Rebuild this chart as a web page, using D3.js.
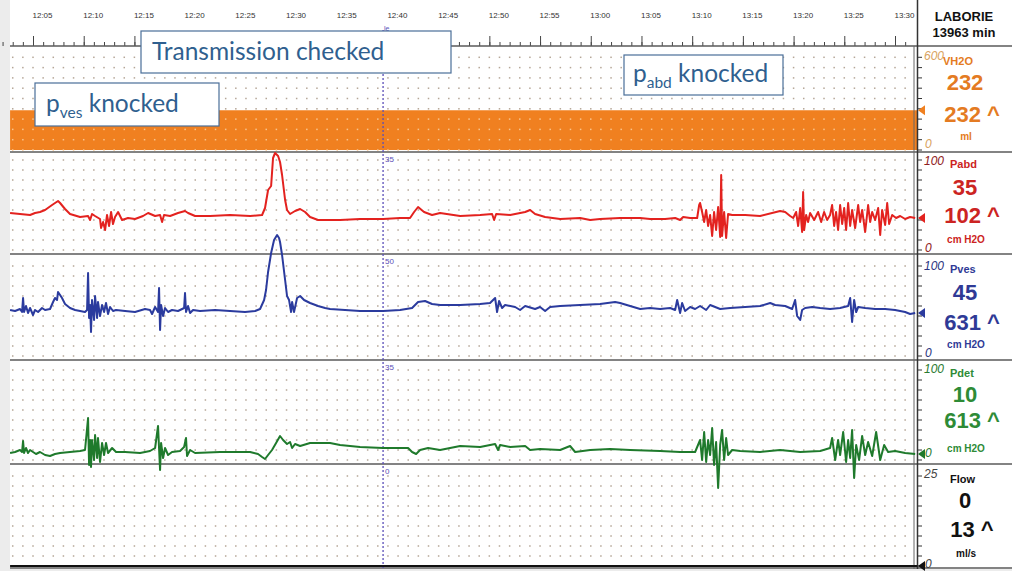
<!DOCTYPE html>
<html lang="en">
<head>
    <meta charset="UTF-8">
    <title>Urodynamics trace</title>
    <style>
        body { margin: 0; background: #ececec; }
        svg { display: block; }
    </style>
</head>
<body>
<script src="https://d3js.org/d3.v7.min.js"></script>
<script>
    // time in minutes after 12:00
    var tickMinutes = [5, 10, 15, 20, 25, 30, 35, 40, 45, 50, 55, 60, 65, 70, 75, 80, 85, 90];
    var tickLabels = ["12:05", "12:10", "12:15", "12:20", "12:25", "12:30", "12:35", "12:40", "12:45",
        "12:50", "12:55", "13:00", "13:05", "13:10", "13:15", "13:20", "13:25", "13:30"];

    var vh2o = [[2.74, 232], [92.2, 232]];
    var flow = [[2.74, 0], [92.2, 0]];

    var pabd = [[2.74,37],[3.72,36],[4.71,35],[5.20,37],[5.69,38],[6.19,40],[6.88,45],[7.47,49],[7.67,47],[8.16,41],
        [8.65,36],[9.64,33],[10.43,34],[10.63,30],[10.82,36],[11.12,34],[11.61,31],[11.71,22],[11.91,28],[12.11,20],
        [12.30,35],[12.50,24],[12.70,38],[12.89,26],[13.09,33],[13.39,38],[13.78,30],[14.37,32],[15.06,31],[15.85,34],
        [16.35,37],[17.04,34],[17.53,35],[17.73,28],[17.92,35],[18.52,34],[19.30,37],[19.99,39],[20.29,37],[20.98,34],
        [22.46,34],[24.43,35],[26.41,34],[27.59,35],[27.88,42],[28.18,60],[28.48,64],[28.67,92],[28.87,97],[29.17,94],
        [29.36,88],[29.56,75],[29.86,50],[30.05,40],[30.35,36],[30.84,39],[31.34,41],[31.83,38],[32.32,33],[33.11,30],
        [35.28,30],[37.25,31],[39.52,31],[41.20,32],[42.18,32],[42.58,38],[42.97,43],[43.56,38],[44.35,35],[45.14,37],
        [47.12,34],[49.09,35],[50.27,36],[50.47,30],[50.67,36],[52.05,35],[53.53,38],[54.02,40],[54.51,36],[55.50,33],
        [56.98,31],[58.95,32],[59.94,30],[60.92,31],[62.89,32],[64.87,32],[65.85,31],[67.33,31],[68.32,32],[68.81,30],
        [69.11,33],[69.80,32],[70.49,32],[70.69,45],[70.78,47],[70.98,38],[71.18,28],[71.38,40],[71.57,24],[71.77,35],
        [71.97,14],[72.16,38],[72.36,20],[72.56,43],[72.76,13],[72.86,75],[72.95,14],[73.15,38],[73.35,12],[73.54,36],
        [73.94,35],[75.22,35],[76.70,34],[78.67,39],[79.17,38],[79.66,34],[79.96,32],[80.25,38],[80.45,24],[80.65,42],
        [80.84,18],[80.94,58],[81.04,20],[81.24,35],[81.43,28],[81.63,37],[82.03,30],[82.42,38],[82.72,28],[83.01,38],
        [83.31,30],[83.60,35],[83.80,45],[84.00,24],[84.19,38],[84.39,20],[84.59,45],[84.79,26],[84.99,42],[85.18,20],
        [85.38,47],[85.58,24],[85.77,40],[86.07,22],[86.37,45],[86.56,28],[86.76,40],[87.06,18],[87.35,45],[87.55,28],
        [87.75,38],[88.04,30],[88.34,42],[88.54,15],[88.73,40],[89.03,25],[89.23,47],[89.42,26],[89.72,35],[90.11,32],
        [90.51,34],[91.00,31],[91.49,33],[91.99,32]];

    var pves = [[2.74,46],[3.23,45],[3.72,47],[3.92,44],[4.02,58],[4.12,44],[4.31,50],[4.51,43],[4.71,48],[5.00,41],
        [5.20,46],[5.50,44],[5.89,48],[6.19,46],[6.68,47],[6.98,54],[7.17,58],[7.37,56],[7.47,64],[7.67,61],
        [7.86,58],[8.16,52],[8.65,48],[9.15,46],[9.64,45],[10.13,44],[10.33,46],[10.43,83],[10.53,38],[10.63,51],
        [10.72,24],[10.82,56],[11.02,36],[11.12,60],[11.32,38],[11.41,54],[11.61,40],[11.81,51],[12.01,44],[12.20,53],
        [12.40,42],[12.60,49],[12.89,45],[13.19,46],[14.08,45],[15.06,44],[16.05,47],[16.54,46],[16.74,42],[17.04,49],
        [17.33,44],[17.43,68],[17.53,26],[17.63,51],[17.83,40],[18.02,48],[18.32,44],[18.71,46],[19.30,45],[19.70,47],
        [19.90,48],[19.99,63],[20.09,44],[20.29,50],[20.49,43],[20.78,46],[21.47,45],[22.95,46],[24.43,45],[25.91,44],
        [26.90,45],[27.39,47],[27.79,56],[27.98,66],[28.18,84],[28.48,103],[28.77,116],[29.07,121],[29.26,118],[29.36,114],
        [29.56,101],[29.86,76],[30.05,60],[30.25,56],[30.45,44],[30.55,54],[30.74,44],[31.04,58],[31.34,60],[31.73,56],
        [32.32,53],[33.11,50],[33.80,48],[34.29,47],[35.77,46],[37.25,45],[39.52,45],[41.20,46],[42.38,48],[42.97,54],
        [43.66,55],[44.35,52],[45.14,51],[47.12,51],[49.09,52],[50.07,53],[50.57,58],[50.76,44],[50.96,55],[51.26,48],
        [51.55,51],[52.54,49],[53.03,46],[53.53,50],[54.51,47],[55.00,49],[55.50,45],[55.99,49],[56.98,50],[58.95,51],
        [60.92,52],[62.40,54],[62.89,53],[63.88,50],[64.87,47],[65.85,48],[66.84,47],[67.83,48],[68.32,46],[68.52,56],
        [68.81,43],[69.01,53],[69.30,45],[69.80,49],[70.29,47],[70.78,50],[71.38,46],[71.77,51],[72.76,47],[73.74,48],
        [75.22,49],[76.70,50],[77.69,53],[78.18,51],[79.17,50],[79.86,47],[80.15,56],[80.35,40],[80.65,36],[80.84,46],
        [81.14,48],[81.83,49],[82.62,48],[83.60,47],[84.59,48],[85.38,50],[85.58,58],[85.77,34],[85.97,56],[86.17,44],
        [86.37,49],[87.06,48],[88.04,47],[89.03,47],[90.01,46],[91.00,44],[91.49,42],[91.99,43]];

    var pdet = [[2.74,7],[3.23,8],[3.72,10],[3.92,8],[4.02,19],[4.12,7],[4.31,12],[4.51,7],[4.71,10],[5.00,8],
        [5.30,6],[5.69,8],[6.19,5],[6.68,4],[7.17,6],[7.67,7],[8.65,8],[9.64,9],[10.13,10],[10.43,42],
        [10.53,-5],[10.63,20],[10.72,-7],[10.82,20],[11.02,0],[11.12,25],[11.32,2],[11.41,22],[11.61,-2],[11.81,17],
        [12.01,5],[12.20,17],[12.40,7],[12.80,12],[13.19,8],[14.08,8],[15.56,7],[16.54,9],[17.04,12],[17.33,34],
        [17.53,-10],[17.63,17],[17.83,2],[18.02,12],[18.32,5],[18.71,8],[19.50,9],[19.90,13],[20.09,22],[20.19,4],
        [20.49,10],[20.98,7],[23.45,8],[26.41,8],[27.19,6],[27.59,3],[27.88,1],[28.18,5],[28.57,10],[28.97,17],
        [29.36,24],[29.66,20],[30.05,16],[30.35,18],[30.55,12],[30.84,16],[31.34,14],[32.32,17],[34.29,17],[35.28,15],
        [37.25,13],[39.52,12],[41.99,12],[42.38,8],[42.78,6],[43.17,10],[43.96,12],[45.14,10],[46.13,12],[47.12,14],
        [49.09,13],[50.57,16],[50.86,10],[51.06,15],[52.05,13],[53.53,14],[54.02,10],[55.00,11],[56.98,10],[57.96,14],
        [58.46,8],[59.94,10],[61.91,11],[63.88,10],[66.84,9],[68.81,8],[70.29,8],[70.78,20],[70.98,0],[71.18,28],
        [71.38,-2],[71.57,20],[71.77,5],[71.97,32],[72.16,-5],[72.36,18],[72.56,-28],[72.76,15],[72.95,30],[73.15,0],
        [73.35,22],[73.54,5],[73.94,10],[74.73,9],[76.70,8],[78.67,10],[80.65,8],[82.62,9],[83.60,12],[83.80,22],
        [84.10,0],[84.39,20],[84.59,5],[84.89,28],[85.18,-2],[85.38,20],[85.58,2],[85.77,30],[85.97,-18],[86.17,15],
        [86.46,0],[86.76,24],[87.06,5],[87.35,18],[87.75,4],[88.14,28],[88.54,0],[88.93,15],[89.32,8],[90.01,9],
        [91.00,7],[91.99,6]];

    var channelNames = ["VH2O", "Pabd", "Pves", "Pdet", "Flow"];
    var channelMax = [600, 100, 100, 100, 25];
    var currentValues = [232, 35, 45, 10, 0];
    var markedValues = [232, 102, 631, 613, 13];
    var channelUnits = ["ml", "cm H2O", "cm H2O", "cm H2O", "ml/s"];
    var cursorMinute = 39.52;
    var cursorReadouts = ["35", "50", "35", "0"];

    var width = 1012, height = 571;
    var plotLeft = 10;

    // panel layout: top / bottom of each strip, and where 0..max sits
    var panels = [
        {top: 46, bottom: 152, y0: 150, y1: 47, line: "#F08020", text: "#E47B22", soft: "#D9A35E"},
        {top: 152, bottom: 254, y0: 250, y1: 150, line: "#E3221F", text: "#CC2422", soft: "#8E2020"},
        {top: 254, bottom: 360, y0: 356, y1: 256, line: "#2B3B9E", text: "#2F3A96", soft: "#2A3580"},
        {top: 360, bottom: 464, y0: 460, y1: 360, line: "#1F7A2C", text: "#2E8B36", soft: "#2A7A30"},
        {top: 464, bottom: 568, y0: 566, y1: 466, line: "#111111", text: "#111111", soft: "#444444"}
    ];

    var x = d3.scaleLinear().domain([5, 90]).range([33, 895]);

    var yScales = panels.map(function (p, i) {
        return d3.scaleLinear().domain([0, channelMax[i]]).range([p.y0, p.y1]);
    });

    var svg = d3.select("body")
        .append("svg")
        .attr("width", width)
        .attr("height", height);

    svg.append("rect")
        .attr("x", plotLeft).attr("y", 0)
        .attr("width", width - plotLeft).attr("height", 569)
        .attr("fill", "#ffffff");

    // volume fill
    var area = d3.area()
        .x(function (d) { return x(d[0]); })
        .y0(yScales[0](0))
        .y1(function (d) { return yScales[0](d[1]); });

    svg.append("path")
        .datum(vh2o)
        .attr("d", area)
        .attr("fill", panels[0].line);

    // dotted grid
    var minutes = d3.range(3, 92);
    panels.forEach(function (p, i) {
        var rows = d3.range(0, 11).map(function (k) { return yScales[i](channelMax[i] * k / 10); })
            .filter(function (yy) { return yy > p.top + 2 && yy < p.bottom - 1; });
        var g = svg.append("g");
        rows.forEach(function (yy) {
            g.selectAll(null)
                .data(minutes)
                .enter()
                .append("rect")
                .attr("x", function (m) { return x(m) - 0.75; })
                .attr("y", yy - 0.75)
                .attr("width", 1.5)
                .attr("height", 1.5)
                .attr("fill", i === 0 && yy > yScales[0](232) ? "#f7c48e" : "#b5a697");
        });
        // small ticks on the right edge
        svg.append("g").selectAll("line")
            .data(rows)
            .enter()
            .append("line")
            .attr("x1", 917).attr("x2", 922)
            .attr("y1", function (d) { return d; })
            .attr("y2", function (d) { return d; })
            .attr("stroke", "#333")
            .attr("stroke-width", 1);
    });

    // time axis
    var axisY = 46;
    var minor = svg.append("g")
        .attr("transform", "translate(0," + axisY + ")")
        .call(d3.axisTop(x).tickValues(d3.range(2, 92)).tickSize(4).tickFormat(""));
    var major = svg.append("g")
        .attr("transform", "translate(0," + axisY + ")")
        .call(d3.axisTop(x).tickValues(tickMinutes).tickSize(10)
            .tickFormat(function (d, i) { return tickLabels[i]; }).tickPadding(18));
    [minor, major].forEach(function (g) {
        g.select(".domain").remove();
        g.selectAll("line").attr("stroke", "#444");
    });
    major.selectAll("text")
        .attr("dx", 9)
        .attr("font-family", "Liberation Sans, Arial, sans-serif")
        .attr("font-size", "8px")
        .attr("fill", "#333");

    // horizontal separators
    var sepY = [axisY, 152, 254, 360, 464, 568];
    svg.selectAll(".sep")
        .data(sepY)
        .enter()
        .append("line")
        .attr("x1", plotLeft).attr("x2", width)
        .attr("y1", function (d) { return d; })
        .attr("y2", function (d) { return d; })
        .attr("stroke", "#5a5a5a")
        .attr("stroke-width", 1.5);

    // vertical border of the readout column
    svg.append("line").attr("x1", 914).attr("x2", 914).attr("y1", 46).attr("y2", 569)
        .attr("stroke", "#666").attr("stroke-width", 1);
    svg.append("line").attr("x1", 917.5).attr("x2", 917.5).attr("y1", 0).attr("y2", 569)
        .attr("stroke", "#333").attr("stroke-width", 1.5);

    // cursor
    svg.append("line")
        .attr("x1", x(cursorMinute)).attr("x2", x(cursorMinute))
        .attr("y1", 30).attr("y2", 568)
        .attr("stroke", "#5B4FB8")
        .attr("stroke-width", 1.3)
        .attr("stroke-dasharray", "2,2");
    svg.append("text")
        .attr("x", x(cursorMinute) + 1).attr("y", 31)
        .attr("font-family", "Liberation Sans, Arial, sans-serif")
        .attr("font-size", "7px").attr("fill", "#5B4FB8")
        .text("le");
    svg.selectAll(".readout")
        .data(cursorReadouts)
        .enter()
        .append("text")
        .attr("x", x(cursorMinute) + 2)
        .attr("y", function (d, i) { return panels[i + 1].top + 10; })
        .attr("font-family", "Liberation Sans, Arial, sans-serif")
        .attr("font-size", "8px")
        .attr("fill", "#5B4FB8")
        .text(function (d) { return d; });

    // pressure traces
    var series = [null, pabd, pves, pdet, flow];
    series.forEach(function (s, i) {
        if (!s) return;
        var line = d3.line()
            .x(function (d) { return x(d[0]); })
            .y(function (d) { return yScales[i](d[1]); });
        svg.append("path")
            .datum(s)
            .attr("d", line)
            .attr("fill", "none")
            .attr("stroke", panels[i].line)
            .attr("stroke-width", 2)
            .attr("stroke-linejoin", "round");
    });

    // readout column
    var allSeries = [vh2o, pabd, pves, pdet, flow];
    var font = "Liberation Sans, Arial, sans-serif";
    var offsets = [
        {max: 14, name: 19, cur: 44, mark: 76, unit: 94, zero: 102},
        {max: 13, name: 16, cur: 43, mark: 71, unit: 91, zero: 100},
        {max: 16, name: 19, cur: 46, mark: 76, unit: 94, zero: 103},
        {max: 13, name: 17, cur: 42, mark: 68, unit: 92, zero: 97},
        {max: 14, name: 19, cur: 44, mark: 73, unit: 93, zero: 104}
    ];

    panels.forEach(function (p, i) {
        var o = offsets[i];
        var g = svg.append("g").attr("font-family", font);
        g.append("text").attr("x", 924).attr("y", p.top + o.max)
            .attr("font-style", "italic").attr("font-size", "12px").attr("fill", p.soft)
            .text(channelMax[i]);
        g.append("text").attr("x", i === 0 ? 943 : 950).attr("y", p.top + o.name)
            .attr("font-weight", "bold").attr("font-size", "11px").attr("fill", p.text)
            .text(channelNames[i]);
        g.append("text").attr("x", 965).attr("y", p.top + o.cur)
            .attr("text-anchor", "middle")
            .attr("font-weight", "bold").attr("font-size", "22px").attr("fill", p.text)
            .text(currentValues[i]);
        g.append("text").attr("x", 972).attr("y", p.top + o.mark)
            .attr("text-anchor", "middle")
            .attr("font-weight", "bold").attr("font-size", "22px").attr("fill", p.text)
            .text(markedValues[i] + " ^");
        g.append("text").attr("x", 966).attr("y", p.top + o.unit)
            .attr("text-anchor", "middle")
            .attr("font-weight", "bold").attr("font-size", "10px").attr("fill", p.text)
            .text(channelUnits[i]);
        g.append("text").attr("x", 925).attr("y", p.top + o.zero)
            .attr("font-style", "italic").attr("font-size", "12px").attr("fill", p.soft)
            .text("0");

        // pointer at the latest value
        var last = allSeries[i][allSeries[i].length - 1][1];
        var yy = yScales[i](last);
        g.append("path")
            .attr("d", "M918," + yy + " L925," + (yy - 5) + " L925," + (yy + 5) + " Z")
            .attr("fill", p.line);
    });

    // header
    svg.append("text").attr("x", 964).attr("y", 21)
        .attr("text-anchor", "middle").attr("font-family", font)
        .attr("font-weight", "bold").attr("font-size", "13px").attr("fill", "#111")
        .text("LABORIE");
    svg.append("text").attr("x", 964).attr("y", 37)
        .attr("text-anchor", "middle").attr("font-family", font)
        .attr("font-weight", "bold").attr("font-size", "13px").attr("fill", "#111")
        .text("13963 min");

    // call-out boxes
    var boxFont = "Lato, 'Open Sans', sans-serif";
    var boxColor = "#2F5F8F";

    function callout(bx, by, bw, bh, tx, ty, parts) {
        var g = svg.append("g");
        g.append("rect")
            .attr("x", bx).attr("y", by).attr("width", bw).attr("height", bh)
            .attr("fill", "#ffffff")
            .attr("stroke", "#4A6E98")
            .attr("stroke-width", 1.2);
        var t = g.append("text")
            .attr("x", tx).attr("y", ty)
            .attr("font-family", boxFont)
            .attr("font-size", "24.5px")
            .attr("fill", boxColor);
        parts.forEach(function (p) {
            t.append("tspan")
                .attr("font-size", p.sub ? "15.5px" : "24.5px")
                .attr("dy", p.dy || 0)
                .text(p.text);
        });
    }

    callout(141, 31, 310, 42, 152, 60, [{text: "Transmission checked"}]);
    callout(624, 55, 159, 40, 633, 82, [{text: "p"}, {text: "abd", sub: true, dy: 6}, {text: " knocked", dy: -6}]);
    callout(35, 83, 184, 43, 46, 112, [{text: "p"}, {text: "ves", sub: true, dy: 6}, {text: " knocked", dy: -6}]);
</script>
</body>
</html>
